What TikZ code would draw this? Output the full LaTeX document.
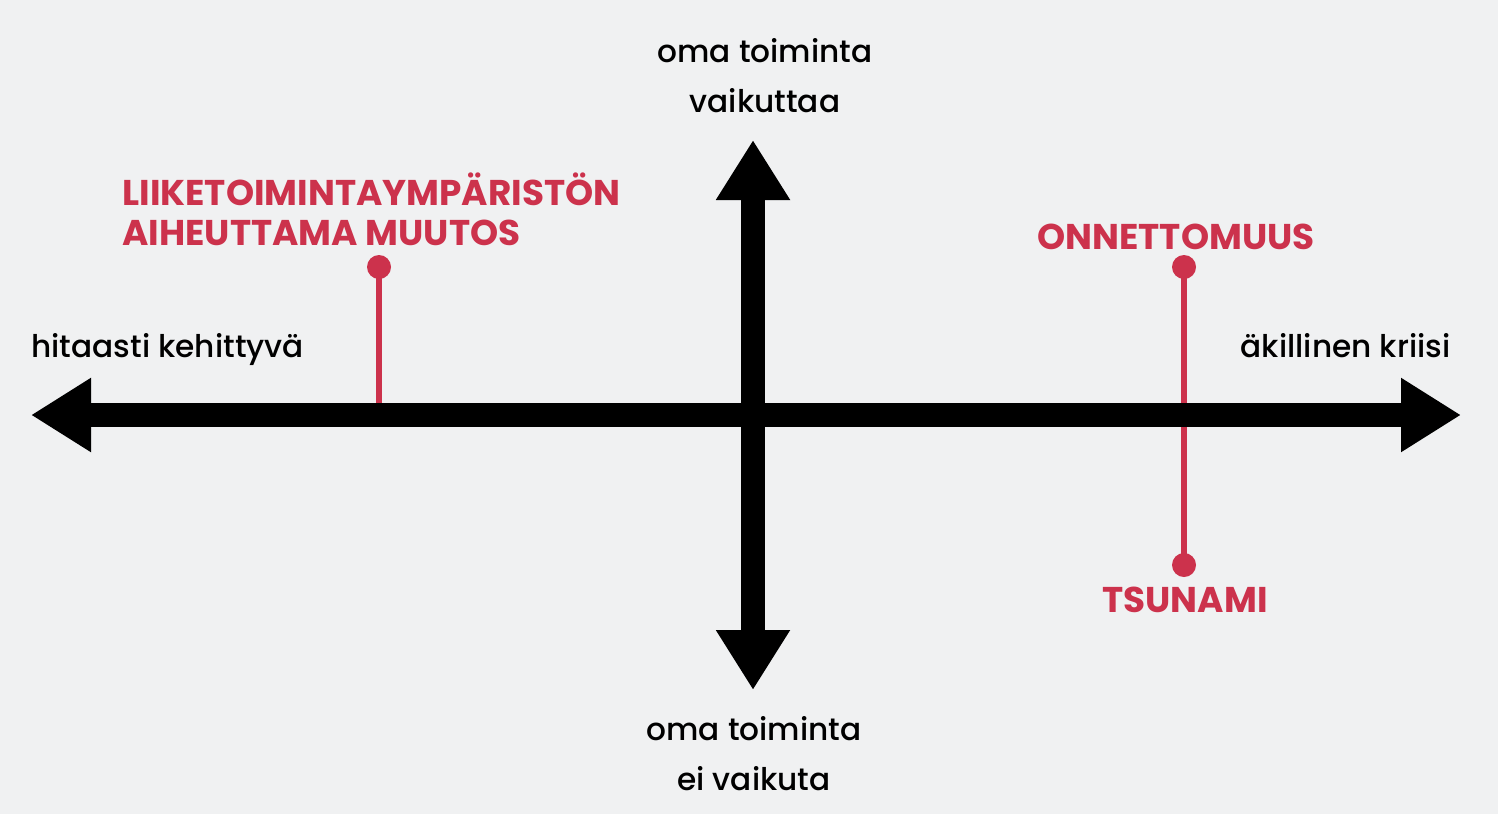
\documentclass[tikz,border=0pt]{standalone}
\usepackage{fontspec}
\setmainfont{Poppins}
\newfontfamily\medfont{Poppins Medium}
\usetikzlibrary{arrows.meta}
\definecolor{bg}{RGB}{240,241,242}
\definecolor{accent}{RGB}{204,50,76}
\tikzset{
  axis/.style={line width=12pt, -{Triangle[length=30pt,width=35pt]}, black},
  stem/.style={line width=3pt, accent},
  dot/.style={circle, fill=accent, inner sep=0pt, minimum size=12pt},
  lbl/.style={font=\medfont\fontsize{15.6}{25}\selectfont, text=black, align=center, inner sep=0pt},
  redlbl/.style={font=\fontsize{17.9}{20}\bfseries\selectfont, text=accent, align=left, inner sep=0pt},
}
\begin{document}
\begin{tikzpicture}[x=0.5pt,y=-0.5pt]
\useasboundingbox[fill=bg] (0,0) rectangle (1498,814);
% coordinates
\coordinate (hl) at (31,415);
\coordinate (hr) at (1461,415);
\coordinate (vt) at (753,140);
\coordinate (vb) at (753,690);
\coordinate (c) at (753,415);
% red stems
\node[dot] (d1) at (379,267) {};
\node[dot] (d2) at (1184,267) {};
\node[dot] (d3) at (1184,565) {};
\coordinate (s1) at (379,415);
\draw[stem] (d1.center) -- (s1);
\draw[stem] (d2.center) -- (d3.center);
% axes
\draw[axis] (c) -- (hl);
\draw[axis] (c) -- (hr);
\draw[axis] (c) -- (vt);
\draw[axis] (c) -- (vb);
% labels
\node[lbl] (top) at (765,76) {oma toiminta\\vaikuttaa};
\node[lbl] (bot) at (754,754) {oma toiminta\\ei vaikuta};
\node[lbl, anchor=base west] (left) at (31,357) {hitaasti kehittyvä};
\node[lbl, anchor=base east] (right) at (1451,357) {äkillinen kriisi};
\node[redlbl, anchor=north west] (r1) at (122,172) {LIIKETOIMINTAYMPÄRISTÖN\\AIHEUTTAMA MUUTOS};
\node[redlbl, anchor=base] (r2) at (1176,249) {ONNETTOMUUS};
\node[redlbl, anchor=base] (r3) at (1185,612) {TSUNAMI};
\end{tikzpicture}
\end{document}
